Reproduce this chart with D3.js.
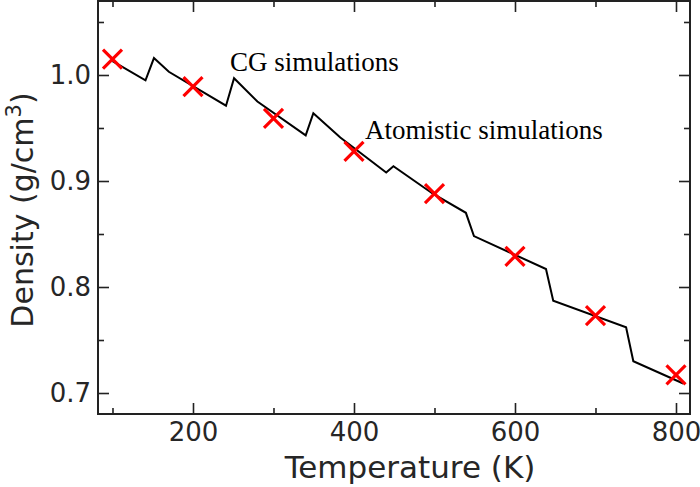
<!DOCTYPE html>
<html>
<head>
<meta charset="utf-8">
<script src="https://cdn.jsdelivr.net/npm/d3@7"></script>
<style>
  html, body { margin: 0; padding: 0; background: #fff; }
  svg { display: block; }
</style>
</head>
<body>
<svg id="chart" width="700" height="487"></svg>
<script>
// ---- data ----
const cgTemperature = [100, 141, 151.5, 170, 241, 251, 280, 340, 349.5, 383, 440, 449, 498, 539, 549, 638.5, 647.5, 738, 747, 809];
const cgDensity     = [1.013, 0.995, 1.016, 1.003, 0.971, 0.997, 0.975, 0.943, 0.964, 0.941, 0.908, 0.914, 0.888, 0.870, 0.848, 0.817, 0.787, 0.762, 0.730, 0.709];
const atomTemperature = [100, 200, 300, 400, 500, 600, 700, 800];
const atomDensity     = [1.015, 0.989, 0.959, 0.928, 0.888, 0.829, 0.773, 0.717];
const xMajorTicks = [200, 400, 600, 800];
const xMinorTicks = [100, 300, 500, 700];
const yMajorTicks = [0.7, 0.8, 0.9, 1.0];
const yMinorTicks = [0.75, 0.85, 0.95, 1.05];
const labels = { x: "Temperature (K)", y: "Density (g/cm", ySup: "3", yEnd: ")",
                 cg: "CG simulations", atom: "Atomistic simulations" };

// ---- layout ----
const L = 98, R = 690, T = 1, B = 414;
const svg = d3.select("#chart");
const x = d3.scaleLinear().domain([82, 817.4]).range([L, R]);
const y = d3.scaleLinear().domain([0.6802, 1.0698]).range([B, T]);

const axisColor = "#222";
const textColor = "#262626";
const tickFont = "'DejaVu Sans', sans-serif";

function styleAxis(g) {
  g.select(".domain").remove();
  g.selectAll(".tick line").attr("stroke", axisColor).attr("stroke-width", 1.6);
  g.selectAll(".tick text").attr("fill", textColor).style("font-family", tickFont).style("font-size", "26px");
}

// major ticks (inward)
svg.append("g").attr("transform", `translate(0,${B})`)
  .call(d3.axisBottom(x).tickValues(xMajorTicks).tickSize(-11).tickPadding(9).tickFormat(d3.format("d")))
  .call(styleAxis);
svg.append("g").attr("transform", `translate(0,${B})`)
  .call(d3.axisBottom(x).tickValues(xMinorTicks).tickSize(-6).tickFormat(""))
  .call(styleAxis);
svg.append("g").attr("transform", `translate(0,${T})`)
  .call(d3.axisTop(x).tickValues(xMajorTicks).tickSize(-11).tickFormat(""))
  .call(styleAxis);
svg.append("g").attr("transform", `translate(0,${T})`)
  .call(d3.axisTop(x).tickValues(xMinorTicks).tickSize(-6).tickFormat(""))
  .call(styleAxis);
svg.append("g").attr("transform", `translate(${L},0)`)
  .call(d3.axisLeft(y).tickValues(yMajorTicks).tickSize(-11).tickPadding(7).tickFormat(d3.format(".1f")))
  .call(styleAxis);
svg.append("g").attr("transform", `translate(${L},0)`)
  .call(d3.axisLeft(y).tickValues(yMinorTicks).tickSize(-6).tickFormat(""))
  .call(styleAxis);
svg.append("g").attr("transform", `translate(${R},0)`)
  .call(d3.axisRight(y).tickValues(yMajorTicks).tickSize(-11).tickFormat(""))
  .call(styleAxis);
svg.append("g").attr("transform", `translate(${R},0)`)
  .call(d3.axisRight(y).tickValues(yMinorTicks).tickSize(-6).tickFormat(""))
  .call(styleAxis);

// frame
svg.append("rect").attr("x", L).attr("y", T).attr("width", R - L).attr("height", B - T)
  .attr("fill", "none").attr("stroke", axisColor).attr("stroke-width", 2);

// CG line
const cgData = cgTemperature.map((t, i) => [t, cgDensity[i]]);
svg.append("path").datum(cgData)
  .attr("fill", "none").attr("stroke", "#000").attr("stroke-width", 2)
  .attr("stroke-linejoin", "miter")
  .attr("d", d3.line().x(d => x(d[0])).y(d => y(d[1])));

// atomistic markers (X)
const s = 9.5;
const atomData = atomTemperature.map((t, i) => [t, atomDensity[i]]);
const mk = svg.append("g").selectAll("g").data(atomData).join("g")
  .attr("transform", d => `translate(${x(d[0])},${y(d[1])})`);
mk.append("path").attr("d", `M${-s},${-s}L${s},${s}M${-s},${s}L${s},${-s}`)
  .attr("stroke", "#ff0000").attr("stroke-width", 3.2).attr("fill", "none");

// annotations
const serif = "'Liberation Serif', 'Times New Roman', serif";
svg.append("text").attr("x", 230).attr("y", 71).attr("fill", "#000")
  .style("font-family", serif).style("font-size", "27px").text(labels.cg);
svg.append("text").attr("x", 365).attr("y", 139).attr("fill", "#000")
  .style("font-family", serif).style("font-size", "27px").text(labels.atom);

// axis labels
svg.append("text").attr("x", 410).attr("y", 478).attr("text-anchor", "middle")
  .attr("fill", textColor).style("font-family", tickFont).style("font-size", "31px").text(labels.x);
const yl = svg.append("text").attr("transform", `translate(33,210) rotate(-90)`)
  .attr("text-anchor", "middle").attr("fill", textColor)
  .style("font-family", tickFont).style("font-size", "30px");
yl.append("tspan").text(labels.y);
yl.append("tspan").attr("dy", -12).style("font-size", "21px").text(labels.ySup);
yl.append("tspan").attr("dy", 12).text(labels.yEnd);
</script>
</body>
</html>
